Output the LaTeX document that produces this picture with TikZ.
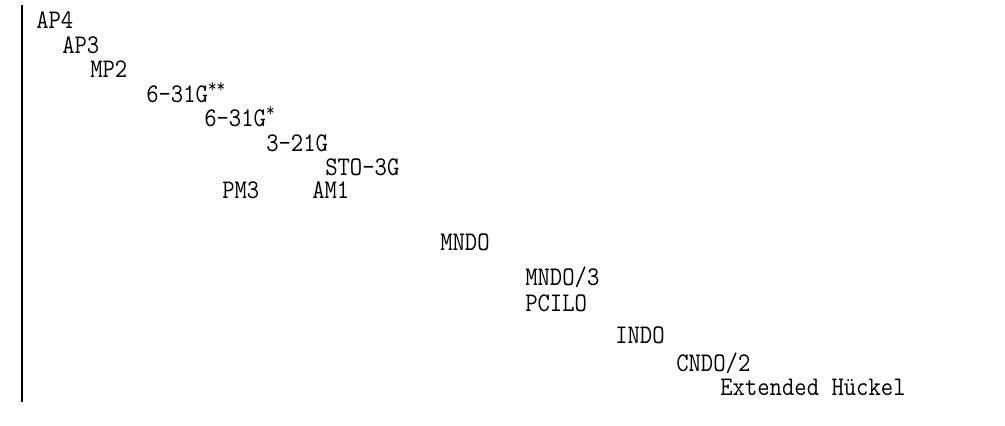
\documentclass[tikz,border=0pt]{standalone}
\newcommand{\mlabel}[1]{\scalebox{1}[1.12]{#1}}
\tikzset{meth/.style={anchor=base west,inner sep=0pt,font=\ttfamily\fontsize{18}{18}\selectfont}}
\begin{document}
\begin{tikzpicture}[x=0.75pt,y=-0.75pt]
\useasboundingbox (0,0) rectangle (1005,425);
\draw[line width=0.8pt] (22,5) -- (22,402);
\node[meth] (ap4) at (36,28) {\mlabel{AP4}};
\node[meth] (ap3) at (62,53) {\mlabel{AP3}};
\node[meth] (mp2) at (90,77) {\mlabel{MP2}};
\node[meth] (g631ss) at (146,102) {\mlabel{6-31G\textsuperscript{**}}};
\node[meth] (g631s) at (204,126) {\mlabel{6-31G\textsuperscript{*}}};
\node[meth] (g321) at (266,151) {\mlabel{3-21G}};
\node[meth] (sto3g) at (325,175) {\mlabel{STO-3G}};
\node[meth] (pm3) at (222,198) {\mlabel{PM3}};
\node[meth] (am1) at (312,198) {\mlabel{AM1}};
\node[meth] (mndo) at (440,250) {\mlabel{MNDO}};
\node[meth] (mndo3) at (525,285) {\mlabel{MNDO/3}};
\node[meth] (pcilo) at (525,311) {\mlabel{PCILO}};
\node[meth] (indo) at (615,343) {\mlabel{INDO}};
\node[meth] (cndo2) at (676,371) {\mlabel{CNDO/2}};
\node[meth] (eht) at (720,395) {\mlabel{Extended H\"uckel}};
\end{tikzpicture}
\end{document}
